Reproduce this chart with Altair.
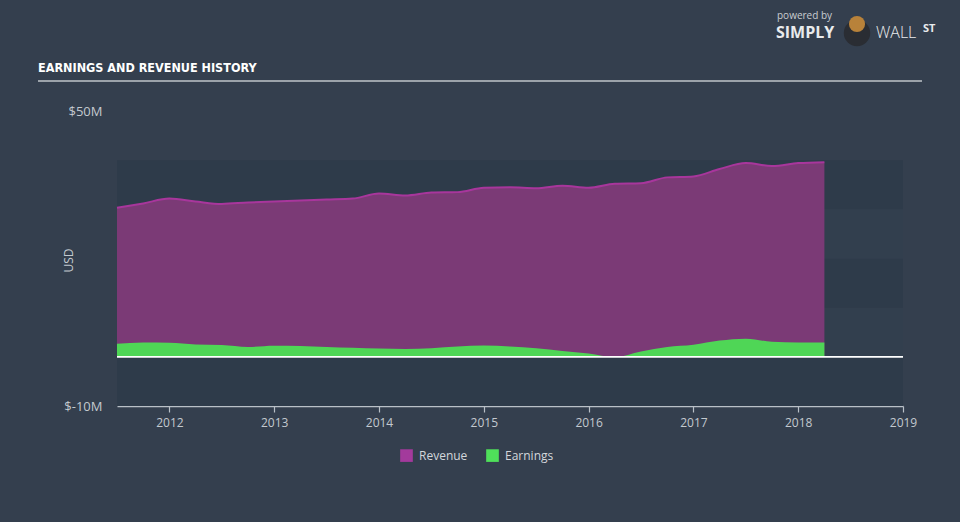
import altair as alt
import pandas as pd

# ---- data (USD millions), quarterly ----
years = [2011.50, 2011.75, 2012.00, 2012.25, 2012.50, 2012.75, 2013.00, 2013.25,
         2013.50, 2013.75, 2014.00, 2014.25, 2014.50, 2014.75, 2015.00, 2015.25,
         2015.50, 2015.75, 2016.00, 2016.25, 2016.50, 2016.75, 2017.00, 2017.25,
         2017.50, 2017.75, 2018.00, 2018.25]
revenue = [30.3, 31.2, 32.2, 31.6, 31.1, 31.4, 31.6, 31.8,
           32.0, 32.2, 33.2, 32.8, 33.4, 33.5, 34.4, 34.5,
           34.3, 34.8, 34.4, 35.2, 35.3, 36.5, 36.7, 38.2,
           39.4, 38.8, 39.4, 39.6]
earnings = [2.65, 2.9, 2.85, 2.5, 2.4, 2.0, 2.25, 2.2,
            2.0, 1.85, 1.7, 1.6, 1.75, 2.1, 2.3, 2.1,
            1.75, 1.2, 0.7, -0.05, 1.1, 2.0, 2.45, 3.3,
            3.7, 3.05, 2.9, 2.9]

x_domain = [2011.5, 2019]
y_domain = [-10, 50]
x_ticks = [2012, 2013, 2014, 2015, 2016, 2017, 2018, 2019]
y_ticks = [-10, 50]
dark_band_lo = [-10, 10, 30]
dark_band_hi = [0, 20, 40]
light_band_lo = [0, 20]
light_band_hi = [10, 30]
series_names = ["Revenue", "Earnings"]

df = pd.DataFrame({"year": years, "revenue": revenue, "earnings": earnings})
dark_df = pd.DataFrame({"lo": dark_band_lo, "hi": dark_band_hi})
light_df = pd.DataFrame({"lo": light_band_lo, "hi": light_band_hi})
legend_df = pd.DataFrame({"series": series_names})
one_df = pd.DataFrame({"k": [0]})

FONT = "Open Sans"
TITLE_FONT = "'DejaVu Sans Condensed', 'Liberation Sans Narrow', Roboto, sans-serif"
LABEL = "#c3c9cf"

xscale = alt.Scale(domain=x_domain, nice=False, zero=False)
yscale = alt.Scale(domain=y_domain, nice=False, zero=False)

x_axis = alt.Axis(values=x_ticks, format="d", title=None, grid=False,
                  domainColor="#b9c0c7", domainWidth=1.5, tickColor="#b9c0c7",
                  tickSize=6, tickWidth=1.2, labelColor=LABEL, labelFontSize=12,
                  labelFont=FONT, labelPadding=5, labelFlush=False,
                  labelOverlap=False, labelBound=False)
y_axis = alt.Axis(values=y_ticks, labelExpr="'$' + datum.value + 'M'",
                  title="USD", titleX=-49, titleY=149, titleAngle=-90,
                  titleAlign="center", titleBaseline="middle",
                  titleColor=LABEL, titleFont=FONT, titleFontSize=12,
                  titleFontWeight="normal", grid=False, domain=False, ticks=False,
                  labelColor=LABEL, labelFontSize=13, labelFont=FONT,
                  labelPadding=15)

base_x = alt.X("year:Q", scale=xscale, axis=x_axis)

dark = alt.Chart(dark_df).mark_rect(color="#2e3b4a").encode(
    x=alt.datum(x_domain[0], scale=xscale, type="quantitative"),
    x2=alt.datum(x_domain[1]),
    y=alt.Y("lo:Q", scale=yscale, axis=y_axis),
    y2="hi:Q",
)
light = alt.Chart(light_df).mark_rect(color="#323f4e").encode(
    x=alt.datum(x_domain[0], type="quantitative"),
    x2=alt.datum(x_domain[1]),
    y=alt.Y("lo:Q"),
    y2="hi:Q",
)

rev_area = alt.Chart(df).mark_area(color="#7b3a76", interpolate="monotone").encode(
    x=base_x, y=alt.Y("revenue:Q"), y2=alt.datum(0)
)
rev_line = alt.Chart(df).mark_line(color="#a8369c", strokeWidth=2,
                                   interpolate="monotone").encode(
    x="year:Q", y="revenue:Q"
)
earn_area = alt.Chart(df).mark_area(color="#4fd656", interpolate="monotone").encode(
    x="year:Q", y=alt.Y("earnings:Q"), y2=alt.datum(0)
)
zero_rule = alt.Chart(one_df).mark_rule(color="#ffffff", strokeWidth=1.6).encode(
    x=alt.datum(x_domain[0], type="quantitative"),
    x2=alt.datum(x_domain[1]),
    y=alt.datum(0, type="quantitative"),
)

legend_layer = alt.Chart(legend_df).mark_square(opacity=0).encode(
    x=alt.datum(2015, type="quantitative"),
    y=alt.datum(20, type="quantitative"),
    color=alt.Color("series:N",
                    scale=alt.Scale(domain=series_names, range=["#a33a9c", "#4fe05a"]),
                    legend=alt.Legend(title=None, orient="none", direction="horizontal",
                                      legendX=283, legendY=338, symbolType="square",
                                      symbolSize=160, symbolOpacity=1,
                                      symbolStrokeWidth=0, labelColor="#d3d7db",
                                      labelFontSize=12, labelFont=FONT,
                                      labelOffset=6, columnPadding=18, padding=0)),
)

title_text = alt.Chart(one_df).mark_text(
    text="EARNINGS AND REVENUE HISTORY", align="left", baseline="middle",
    font=TITLE_FONT, fontWeight="bold", fontSize=12.5, color="#ffffff"
).encode(x=alt.value(-79), y=alt.value(-43))
title_rule = alt.Chart(one_df).mark_rule(color="#9ca3aa", strokeWidth=2).encode(
    x=alt.value(-79), x2=alt.value(805), y=alt.value(-30)
)
logo_small = alt.Chart(one_df).mark_text(
    text="powered by", align="left", baseline="middle", font=FONT,
    fontSize=10, color="#c9cdd1"
).encode(x=alt.value(660), y=alt.value(-95))
logo_simply = alt.Chart(one_df).mark_text(
    text="SIMPLY", align="left", baseline="middle", font=FONT, fontWeight="bold",
    fontSize=16, color="#e9ebed"
).encode(x=alt.value(659), y=alt.value(-78))
logo_wall = alt.Chart(one_df).mark_text(
    text="WALL", align="left", baseline="middle", font=FONT, fontWeight=300,
    fontSize=16, color="#e9ebed"
).encode(x=alt.value(759), y=alt.value(-78))
logo_st = alt.Chart(one_df).mark_text(
    text="ST", align="left", baseline="middle", font=FONT, fontWeight="bold",
    fontSize=11, color="#e9ebed"
).encode(x=alt.value(806), y=alt.value(-82))
logo_circle = alt.Chart(one_df).mark_circle(size=700, color="#2a2d33", opacity=1).encode(
    x=alt.value(740), y=alt.value(-78)
)
logo_head = alt.Chart(one_df).mark_circle(size=260, color="#b8823a", opacity=1).encode(
    x=alt.value(740), y=alt.value(-87)
)

chart = alt.layer(
    dark, light, rev_area, rev_line, earn_area, zero_rule, legend_layer,
    title_text, title_rule, logo_small, logo_simply, logo_wall, logo_st,
    logo_circle, logo_head,
).properties(
    width=786, height=295,
    autosize=alt.AutoSizeParams(type="none"),
    padding={"left": 117, "top": 111, "right": 57, "bottom": 116},
    background="#343f4e",
).configure_view(stroke=None)

chart.save("out.html", embed_options={"renderer": "svg", "actions": False})
